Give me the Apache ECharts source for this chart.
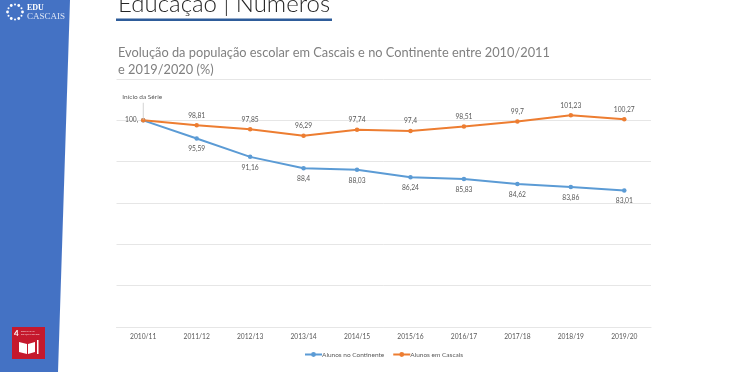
<!DOCTYPE html>
<html><head><meta charset="utf-8">
<style>html,body{margin:0;padding:0;background:#fff}#c{width:755px;height:372px}</style>
<script src="https://cdn.jsdelivr.net/npm/echarts@6/dist/echarts.min.js"></script>
</head><body><div id="c"></div>
<script>
const categories = ['2010/11','2011/12','2012/13','2013/14','2014/15','2015/16','2016/17','2017/18','2018/19','2019/20'];
const continente = [100,95.59,91.16,88.4,88.03,86.24,85.83,84.62,83.86,83.01];
const cascais = [100,98.81,97.85,96.29,97.74,97.4,98.51,99.7,101.23,100.27];
const heading = 'Educação | Números';
const chartTitle = 'Evolução da população escolar em Cascais e no Continente entre 2010/2011\ne 2019/2020 (%)';
const FONT = 'Lato';
const fmt = v => String(v).replace('.', ',');
const logoDots = [0,1,2,3,4,5,6,7,8,9,10,11].map(i => {
  const a = i * Math.PI / 6;
  return {type:'circle', shape:{cx:13+7.5*Math.cos(a), cy:11+7.5*Math.sin(a), r: i%2?1:1.4}, style:{fill:'#fff'}};
});
const chart = echarts.init(document.getElementById('c'));
chart.setOption({
  animation:false,
  backgroundColor:'#fff',
  textStyle:{fontFamily:FONT},
  title:{left:113,top:39,text:chartTitle,textStyle:{fontFamily:FONT,fontWeight:'normal',fontSize:12.8,lineHeight:17.5,color:'#808080'}},
  grid:{left:116.5,right:104,top:79,bottom:45},
  legend:{
    left:299,top:346,itemGap:8,itemWidth:17,itemHeight:6,
    textStyle:{fontFamily:FONT,fontSize:6.5,color:'#595959',padding:[0,0,0,-5]},
    data:['Alunos no Continente','Alunos em Cascais']
  },
  xAxis:{type:'category',data:categories,boundaryGap:true,
    axisTick:{show:false},axisLine:{lineStyle:{color:'#e6e6e6',width:1}},
    axisLabel:{fontFamily:FONT,fontSize:6.7,color:'#595959',margin:6}},
  yAxis:{type:'value',min:50,max:110,interval:10,axisLabel:{show:false},axisTick:{show:false},axisLine:{show:false},
    splitLine:{lineStyle:{color:'#e6e6e6',width:1}}},
  series:[
    {name:'Alunos no Continente',type:'line',data:continente,symbol:'circle',symbolSize:4.5,
     lineStyle:{color:'#5b9bd5',width:2},itemStyle:{color:'#5b9bd5'},
     label:{show:true,position:'bottom',distance:5,fontFamily:FONT,fontSize:6.7,color:'#595959',
       formatter:p=>p.dataIndex===0?'':fmt(p.value)}},
    {name:'Alunos em Cascais',type:'line',data:cascais,symbol:'circle',symbolSize:4.5,
     lineStyle:{color:'#ed7d31',width:2},itemStyle:{color:'#ed7d31'},
     label:{show:true,position:'top',distance:4,fontFamily:FONT,fontSize:6.7,color:'#595959',
       formatter:p=>p.dataIndex===0?'':fmt(p.value)},
     markPoint:{silent:true,data:[
       {coord:[categories[0],cascais[0]],symbol:'rect',symbolSize:[0.8,17],symbolOffset:[0,-9],
        itemStyle:{color:'#c8c8c8'},
        label:{show:true,formatter:'Início da Série',position:'top',distance:2,offset:[-1,0],fontFamily:FONT,fontSize:6.5,color:'#595959'}},
       {coord:[categories[0],cascais[0]],symbol:'circle',symbolSize:0,
        label:{show:true,formatter:fmt(cascais[0])+',',position:'left',distance:5,fontFamily:FONT,fontSize:6.7,color:'#595959'}}
     ]}}
  ],
  graphic:[
    {type:'polygon',shape:{points:[[0,0],[70,0],[58,372],[0,372]]},style:{fill:'#4472c4'},z:-1},
    {type:'group',x:2,y:1,children:logoDots},
    {type:'text',x:27,y:4,style:{text:'EDU',font:'bold 8px "Liberation Serif"',fill:'#fff'}},
    {type:'text',x:27,y:12,style:{text:'CASCAIS',font:'9px "Liberation Serif"',fill:'#dfe7f5'}},
    {type:'text',left:118,top:-8,style:{text:heading,font:'300 24px '+FONT,fill:'#262626'}},
    {type:'rect',shape:{x:116,y:18.5,width:216,height:2.5},style:{fill:'#2e5c9a'}},
    {type:'rect',shape:{x:12,y:327,width:33,height:32},style:{fill:'#c5192d'}},
    {type:'text',x:14,y:329,style:{text:'4',font:'bold 8px '+FONT,fill:'#fff'}},
    {type:'text',x:21,y:329.5,style:{text:'EDUCAÇÃO\nDE QUALIDADE',font:'2.5px '+FONT,fill:'#f6d5d9',lineHeight:3.2}},
    {type:'polygon',shape:{points:[[19,342],[27,344],[27,354],[19,352]]},style:{fill:'#fff'}},
    {type:'polygon',shape:{points:[[28,344],[35,342],[35,352],[28,354]]},style:{fill:'#fff'}},
    {type:'rect',shape:{x:37,y:340,width:1.5,height:14},style:{fill:'#fff'}}
  ]
});
</script></body></html>
